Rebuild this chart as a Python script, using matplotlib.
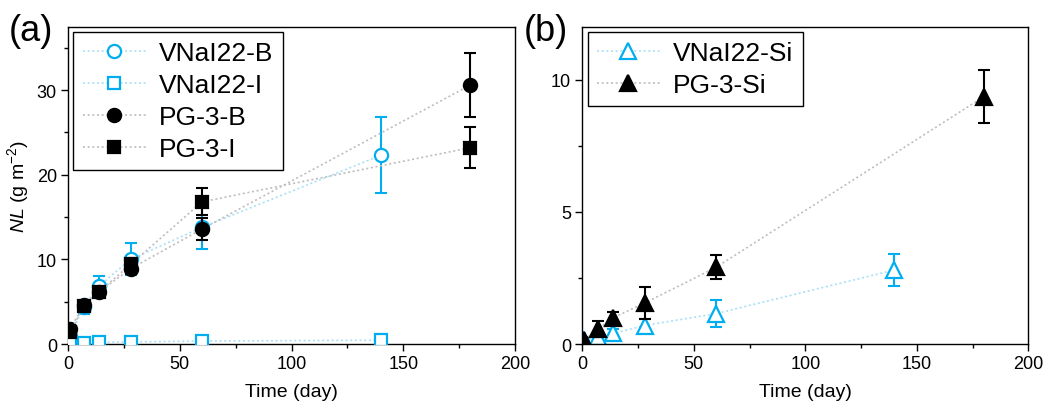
import matplotlib
matplotlib.use("Agg")
import matplotlib.pyplot as plt
from matplotlib.ticker import MultipleLocator

plt.rcParams['font.family'] = ['Liberation Sans', 'DejaVu Sans']
plt.rcParams['mathtext.fontset'] = 'custom'
plt.rcParams['mathtext.rm'] = 'Liberation Sans'
plt.rcParams['mathtext.it'] = 'Liberation Sans:italic'

blue = '#00AEEF'
light_blue = '#A8E0F6'
light_gray = '#BDBDBD'

# panel (a)
days_v = [1, 7, 14, 28, 60, 140]
days_pg = [1, 7, 14, 28, 60, 180]
vnai_b = [1.0, 4.4, 6.9, 10.0, 13.8, 22.3]
vnai_b_err = [0.4, 0.8, 1.1, 1.9, 2.6, 4.5]
vnai_i = [0.1, 0.15, 0.2, 0.25, 0.35, 0.45]
vnai_i_err = [0.05, 0.05, 0.05, 0.05, 0.05, 0.05]
pg_b = [1.8, 4.6, 6.2, 8.9, 13.6, 30.6]
pg_b_err = [0.4, 0.4, 0.5, 0.6, 1.3, 3.8]
pg_i = [1.4, 4.5, 6.2, 9.4, 16.8, 23.2]
pg_i_err = [0.3, 0.3, 0.5, 0.8, 1.6, 2.4]

# panel (b)
vnai_si = [0.15, 0.25, 0.4, 0.7, 1.15, 2.8]
vnai_si_err = [0.05, 0.1, 0.15, 0.25, 0.5, 0.6]
pg_si = [0.15, 0.57, 1.0, 1.55, 2.9, 9.35]
pg_si_err = [0.1, 0.3, 0.2, 0.6, 0.45, 1.0]

fig = plt.figure(figsize=(10.48, 4.10), dpi=100)
ax1 = fig.add_axes([0.0649, 0.1585, 0.4265, 0.7739])
ax2 = fig.add_axes([0.5556, 0.1585, 0.4256, 0.7739])

dot = (0, (1.2, 1.6))


def series(ax, x, y, err, marker, col, line_col, fill, label, z, ms=9.5):
    # error bars under the markers, dotted light connecting line
    ax.errorbar(x, y, yerr=err, fmt='none', ecolor=col, elinewidth=1.5,
                capsize=4, capthick=1.5, zorder=z)
    ax.plot(x, y, color=line_col, ls=dot, lw=1.2, marker=marker, ms=ms,
            mec=col, mfc=fill, mew=1.6, label=label, zorder=z + 0.5)


series(ax1, days_v, vnai_b, vnai_b_err, 'o', blue, light_blue, 'white', 'VNaI22-B', 2)
series(ax1, days_v, vnai_i, vnai_i_err, 's', blue, light_blue, 'white', 'VNaI22-I', 3, ms=9)
series(ax1, days_pg, pg_b, pg_b_err, 'o', 'black', light_gray, 'black', 'PG-3-B', 4)
series(ax1, days_pg, pg_i, pg_i_err, 's', 'black', light_gray, 'black', 'PG-3-I', 5, ms=9)

series(ax2, days_v, vnai_si, vnai_si_err, '^', blue, light_blue, 'white', 'VNaI22-Si', 2, ms=12)
series(ax2, days_pg, pg_si, pg_si_err, '^', 'black', light_gray, 'black', 'PG-3-Si', 3, ms=12)

ax1.set_xlim(0, 200)
ax1.set_ylim(0, 37.5)
ax1.yaxis.set_major_locator(MultipleLocator(10))
ax1.yaxis.set_minor_locator(MultipleLocator(5))
ax1.set_ylabel('$\\mathit{NL}$ (g m$^{-2}$)', fontsize=14, labelpad=4)

ax2.set_xlim(0, 200)
ax2.set_ylim(0, 12)
ax2.yaxis.set_major_locator(MultipleLocator(5))
ax2.yaxis.set_minor_locator(MultipleLocator(2.5))

for ax in (ax1, ax2):
    ax.xaxis.set_major_locator(MultipleLocator(50))
    ax.xaxis.set_minor_locator(MultipleLocator(25))
    ax.set_xlabel('Time (day)', fontsize=14, labelpad=8)
    ax.tick_params(which='major', direction='out', length=5, width=1,
                   labelsize=13, pad=3)
    ax.tick_params(which='minor', direction='out', length=3, width=1)
    for s in ax.spines.values():
        s.set_linewidth(1.0)
    leg = ax.legend(loc='upper left', fontsize=19, frameon=True, fancybox=False,
                    edgecolor='black', framealpha=1, handlelength=2.4,
                    handletextpad=0.5, labelspacing=0.3, borderpad=0.35,
                    borderaxespad=0.2, numpoints=1)
    leg.get_frame().set_linewidth(1.0)

fig.text(0.008, 0.965, '(a)', fontsize=26, va='top', ha='left')
fig.text(0.500, 0.965, '(b)', fontsize=26, va='top', ha='left')

fig.savefig('out.png', dpi=100)
